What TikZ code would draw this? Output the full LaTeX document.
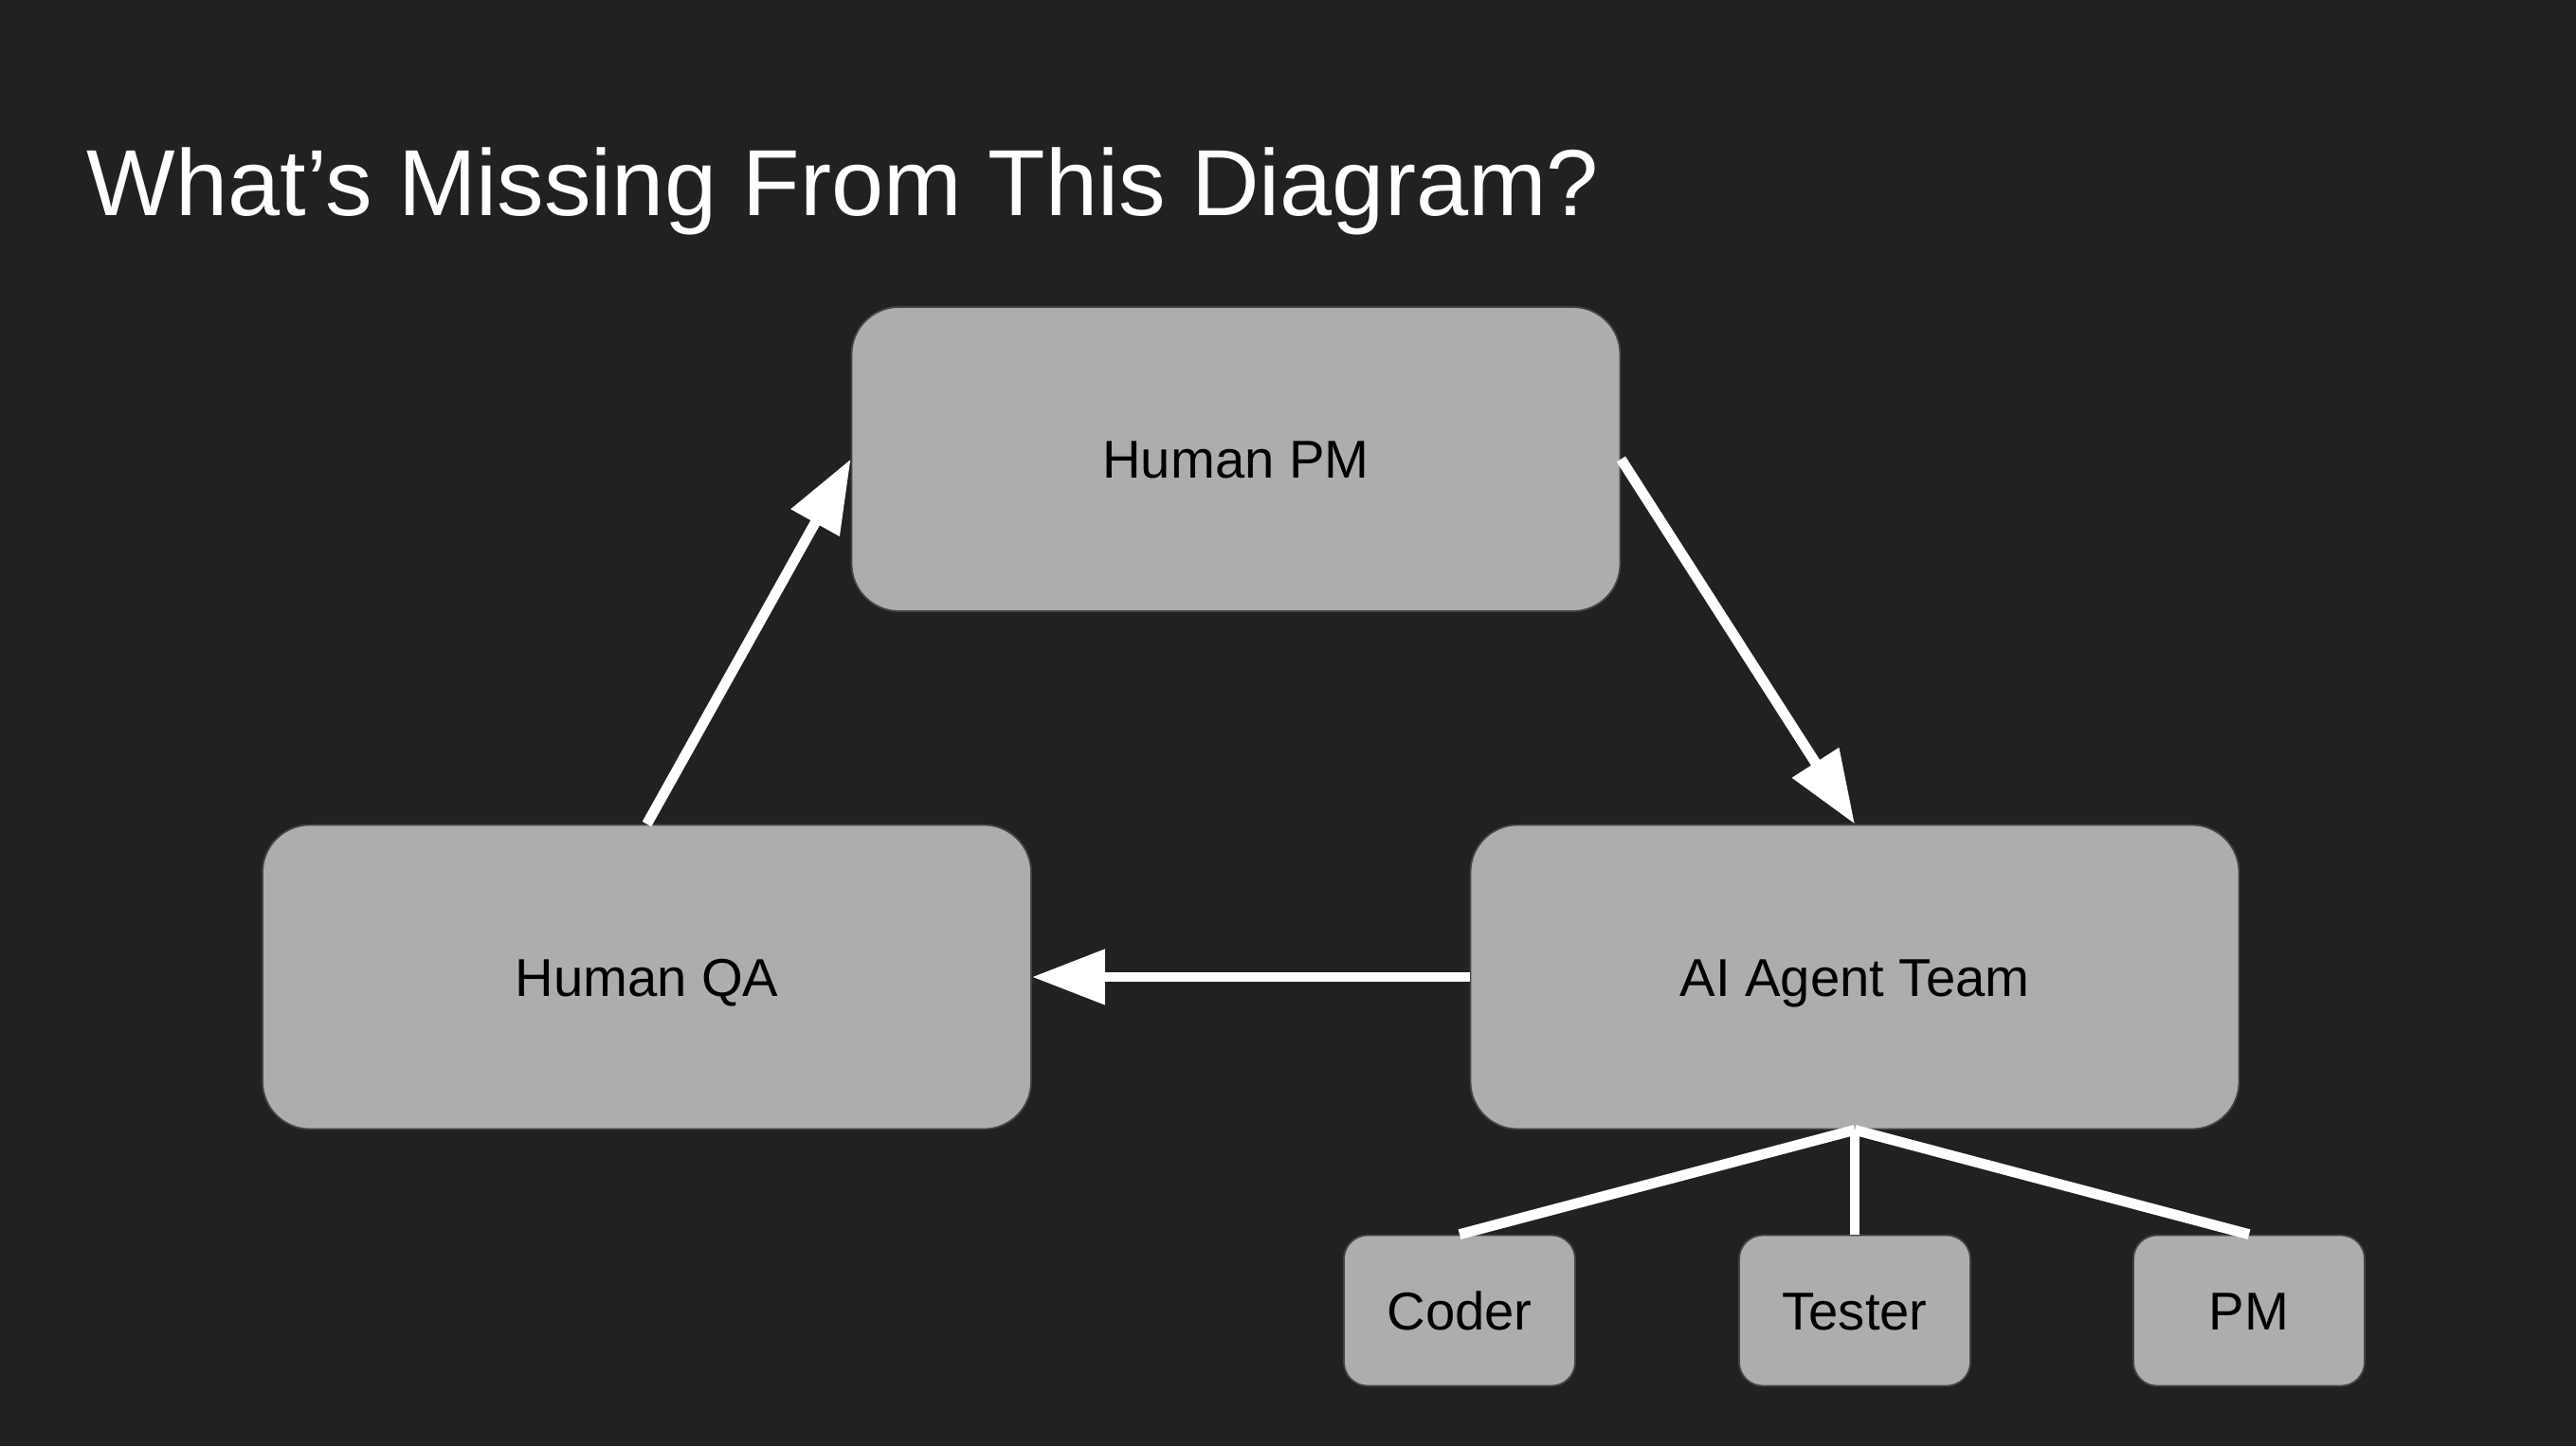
\documentclass[tikz,border=0pt]{standalone}
\usepackage{fontspec}
\setmainfont{Liberation Sans}
\usetikzlibrary{arrows.meta}

\definecolor{slidebg}{HTML}{212121}
\definecolor{boxgray}{HTML}{ADADAD}
\definecolor{boxedge}{HTML}{444444}

\tikzset{
  bigbox/.style={draw=boxedge, line width=0.5pt, fill=boxgray, rounded corners=0.5cm,
    minimum width=8.11cm, minimum height=3.21cm, text height=11.5pt, text depth=0pt,
    font=\fontsize{16pt}{19pt}\selectfont},
  smallbox/.style={draw=boxedge, line width=0.5pt, fill=boxgray, rounded corners=0.25cm,
    minimum width=2.44cm, minimum height=1.59cm, text height=11.5pt, text depth=0pt,
    font=\fontsize{16pt}{19pt}\selectfont},
  flow/.style={white, line width=3.1pt, -{Triangle[length=0.77cm, width=0.56cm]}},
  branch/.style={white, line width=3.1pt},
}

\begin{document}
\begin{tikzpicture}
        \fill[slidebg] (0, 0) rectangle (27.18, 15.26);

        \node[anchor=base west, inner sep=0pt, white, font=\fontsize{28.2pt}{34pt}\selectfont]
          (title) at (0.91, 12.98) {What’s Missing From This Diagram?};

        \node[bigbox] (humanpm) at (13.04, 10.415) {Human PM};
        \node[bigbox] (humanqa) at (6.825, 4.95) {Human QA};
        \node[bigbox] (agents) at (19.57, 4.95) {AI Agent Team};

        \node[smallbox] (coder) at (15.40, 1.43) {Coder};
        \node[smallbox] (tester) at (19.57, 1.43) {Tester};
        \node[smallbox] (agentpm) at (23.73, 1.43) {PM};

        \draw[flow] (humanqa.north) -- (humanpm.west);
        \draw[flow] (humanpm.east) -- (agents.north);
        \draw[flow] (agents.west) -- (humanqa.east);

        \draw[branch] (agents.south) -- (coder.north);
        \draw[branch] (agents.south) -- (tester.north);
        \draw[branch] (agents.south) -- (agentpm.north);
      \end{tikzpicture}
\end{document}
